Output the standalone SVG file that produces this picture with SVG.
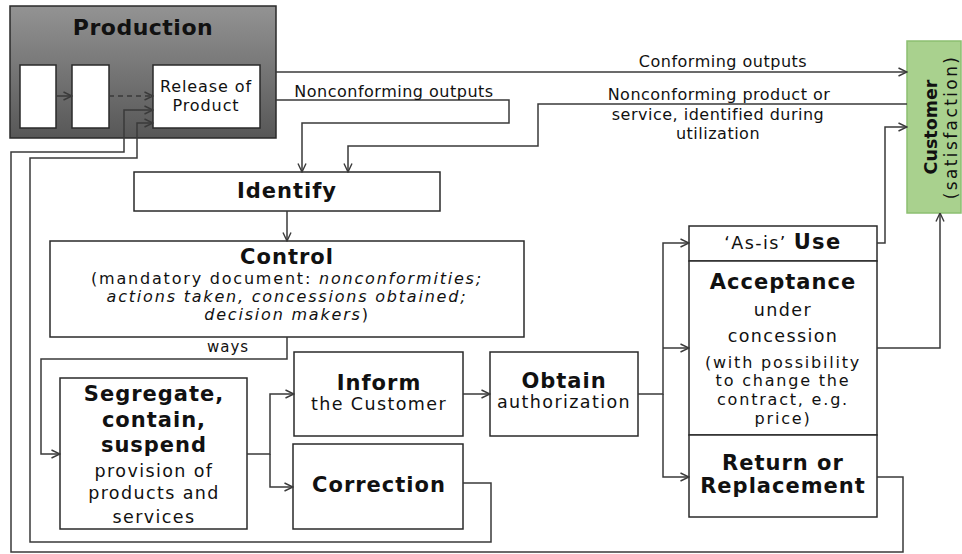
<svg xmlns="http://www.w3.org/2000/svg" width="962" height="554" viewBox="0 0 962 554">
<defs>
<linearGradient id="prodGrad" x1="0" y1="0" x2="0" y2="1">
<stop offset="0" stop-color="#939393"/>
<stop offset="1" stop-color="#575757"/>
</linearGradient>
<marker id="arr" viewBox="0 0 10 10" refX="9.5" refY="5" markerWidth="10" markerHeight="10" markerUnits="userSpaceOnUse" orient="auto">
<polyline points="1,1 9.5,5 1,9" fill="none" stroke="#3a3a3a" stroke-width="1.4"/>
</marker>
<style>
.box{fill:#ffffff;stroke:#2a2a2a;stroke-width:1.5}
.ln{fill:none;stroke:#3a3a3a;stroke-width:1.5}
.ar{marker-end:url(#arr)}
text{font-family:"DejaVu Sans",Verdana,sans-serif;fill:#111}
.b{font-weight:bold;font-size:21px;letter-spacing:1px;text-anchor:middle}
.n{font-size:17.5px;letter-spacing:1.4px;text-anchor:middle}
.s{font-size:16px;letter-spacing:1.8px;text-anchor:middle}
.lbl{font-size:16px;letter-spacing:0.5px;text-anchor:middle}
.it{font-style:italic}
.bb{font-weight:bold}
</style>
</defs>

<g id="production">
<rect x="10" y="6" width="266" height="132" fill="url(#prodGrad)" stroke="#2a2a2a" stroke-width="1.5"/>
<text x="143" y="35" style="font-size:22px;font-weight:bold;letter-spacing:0.5px;text-anchor:middle">Production</text>
<rect class="box" x="20" y="65" width="36" height="63"/>
<rect class="box" x="72" y="65" width="37" height="63"/>
</g>
<g id="release">
<rect class="box" x="153" y="65" width="107" height="63"/>
<text x="206" y="92" style="font-size:16px;letter-spacing:0.9px;text-anchor:middle">Release of</text>
<text x="206" y="111" style="font-size:16px;letter-spacing:0.9px;text-anchor:middle">Product</text>
</g>

<g id="customer">
<rect x="907" y="41" width="54" height="172" fill="#a9d18e" stroke="#8cbf70" stroke-width="1.5"/>
<text transform="translate(937,127) rotate(-90)" style="font-size:17.5px;font-weight:bold;text-anchor:middle">Customer</text>
<text transform="translate(957,127) rotate(-90)" style="font-size:17px;letter-spacing:2.4px;text-anchor:middle">(satisfaction)</text>
</g>

<g id="identify">
<rect class="box" x="134" y="172" width="306" height="39"/>
<text class="b" x="287" y="198">Identify</text>
</g>

<g id="control">
<rect class="box" x="50" y="241" width="474" height="96"/>
<text class="b" x="287" y="264">Control</text>
<text class="s" x="287" y="284">(mandatory document: <tspan class="it">nonconformities;</tspan></text>
<text class="s it" x="287" y="302">actions taken, concessions obtained;</text>
<text class="s" x="287" y="320"><tspan class="it">decision makers</tspan>)</text>
</g>

<g id="segregate">
<rect class="box" x="60" y="378" width="187" height="151"/>
<text class="b" x="154" y="401">Segregate,</text>
<text class="b" x="154" y="427">contain,</text>
<text class="b" x="154" y="452">suspend</text>
<text class="n" x="154" y="477">provision of</text>
<text class="n" x="154" y="499">products and</text>
<text class="n" x="154" y="523">services</text>
</g>

<g id="inform">
<rect class="box" x="294" y="352" width="169" height="84"/>
<text class="b" x="379" y="390">Inform</text>
<text class="n" x="379" y="410">the Customer</text>
</g>

<g id="correction">
<rect class="box" x="293" y="444" width="170" height="85"/>
<text class="b" x="379" y="492">Correction</text>
</g>

<g id="obtain">
<rect class="box" x="490" y="352" width="148" height="84"/>
<text class="b" x="564" y="388">Obtain</text>
<text class="n" x="564" y="408">authorization</text>
</g>

<g id="asis">
<rect class="box" x="689" y="226" width="188" height="35"/>
<text class="n" x="783" y="249">‘As-is’ <tspan class="bb" style="font-size:21px">Use</tspan></text>
</g>

<g id="acceptance">
<rect class="box" x="689" y="261" width="188" height="174"/>
<text class="b" x="783" y="289">Acceptance</text>
<text class="n" x="783" y="316">under</text>
<text class="n" x="783" y="342">concession</text>
<text class="s" x="783" y="368">(with possibility</text>
<text class="s" x="783" y="386">to change the</text>
<text class="s" x="783" y="405">contract, e.g.</text>
<text class="s" x="783" y="424">price)</text>
</g>

<g id="return">
<rect class="box" x="689" y="435" width="188" height="82"/>
<text class="b" x="783" y="470">Return or</text>
<text class="b" x="783" y="493">Replacement</text>
</g>

<g id="connectors">
<path class="ln ar" d="M56,96 H72"/>
<path class="ln ar" d="M109,96 H153" stroke-dasharray="5,4"/>
<path class="ln ar" d="M276,72 H907"/>
<path class="ln ar" d="M276,100 H509 V123 H302 V172"/>
<path class="ln ar" d="M907,104 H538 V146 H348 V172"/>
<path class="ln ar" d="M287,211 V241"/>
<path class="ln ar" d="M287,337 V359 H41 V454 H60"/>
<path class="ln ar" d="M247,454 H270 V394 H294"/>
<path class="ln ar" d="M270,454 V487 H293"/>
<path class="ln ar" d="M463,394 H490"/>
<path class="ln ar" d="M638,394 H663 V243 H689"/>
<path class="ln ar" d="M663,348 H689"/>
<path class="ln ar" d="M663,394 V477 H689"/>
<path class="ln ar" d="M877,243 H885 V127 H907"/>
<path class="ln ar" d="M877,348 H940 V213"/>
<path class="ln ar" d="M463,483 H491 V542 H30 V158 H137 V123 H153"/>
<path class="ln ar" d="M877,477 H903 V552 H11 V152 H124 V110 H153"/>
<text class="lbl" x="723" y="67">Conforming outputs</text>
<text class="lbl" x="394" y="97">Nonconforming outputs</text>
<text class="lbl" x="719" y="100">Nonconforming product or</text>
<text class="lbl" x="718" y="120">service, identified during</text>
<text class="lbl" x="718" y="139">utilization</text>
<text x="228" y="352" style="font-size:15px;letter-spacing:1px;text-anchor:middle">ways</text>
</g>
</svg>
